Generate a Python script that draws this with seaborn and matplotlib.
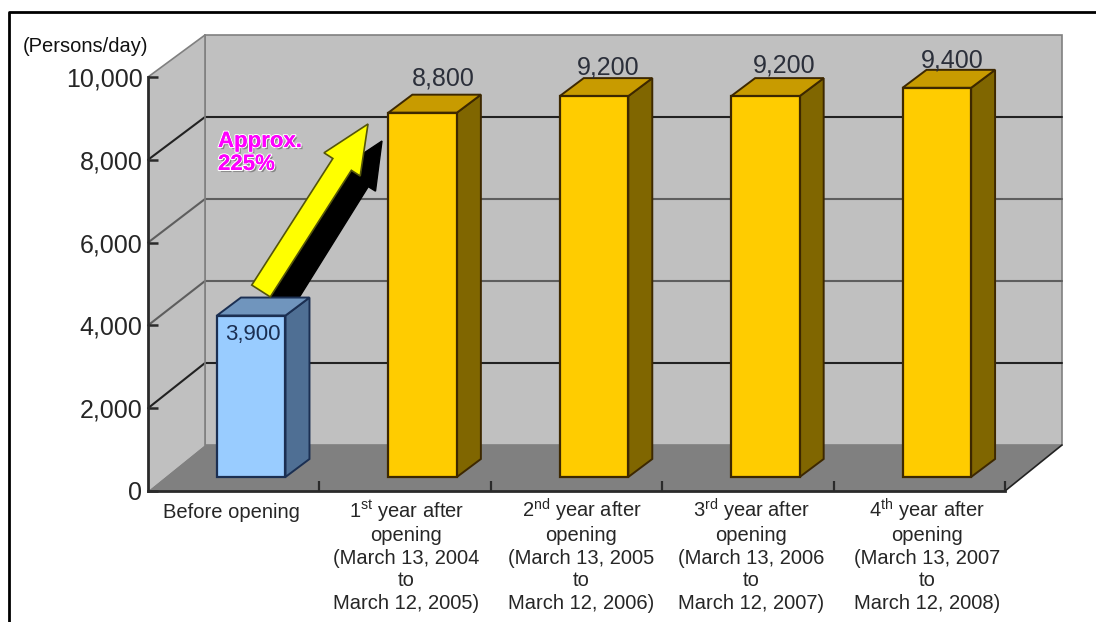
import matplotlib
matplotlib.use("Agg")
import matplotlib.pyplot as plt
import numpy as np
import pandas as pd
import seaborn as sns
from matplotlib.lines import Line2D
from matplotlib.patches import FancyArrow, Polygon
from matplotlib.transforms import Affine2D, IdentityTransform
import matplotlib.patheffects as pe

# Daily passenger counts before and after the opening
categories = [
    "Before opening",
    "1$^{\\mathrm{st}}$ year after\nopening\n(March 13, 2004\nto\nMarch 12, 2005)",
    "2$^{\\mathrm{nd}}$ year after\nopening\n(March 13, 2005\nto\nMarch 12, 2006)",
    "3$^{\\mathrm{rd}}$ year after\nopening\n(March 13, 2006\nto\nMarch 12, 2007)",
    "4$^{\\mathrm{th}}$ year after\nopening\n(March 13, 2007\nto\nMarch 12, 2008)",
]
persons_per_day = [3900, 8800, 9200, 9200, 9400]
y_ticks = [0, 2000, 4000, 6000, 8000, 10000]
y_tick_labels = ["0", "2,000", "4,000", "6,000", "8,000", "10,000"]

front_colors = ["#99CCFF", "#FFCC00", "#FFCC00", "#FFCC00", "#FFCC00"]
side_colors = ["#4F6F94", "#806600", "#806600", "#806600", "#806600"]
top_colors = ["#7095BD", "#C89B00", "#C89B00", "#C89B00", "#C89B00"]
edge_colors = ["#1B2F52", "#3D2800", "#3D2800", "#3D2800", "#3D2800"]
grid_colors = ["#808080", "#222222", "#5E5E5E", "#5E5E5E", "#222222", "#808080"]
label_offsets = [(19, -5), (38, 48), (32, 43), (36, 45), (33, 41)]
label_sizes = [16, 18, 18, 18, 18]
category_shift = [-2, 1, 5, 3, 8]

WALL = "#C0C0C0"
FLOOR = "#808080"
TEXT = "#262626"
W, H = 1096, 622
BAR_PLANE = (17.5, 14)
BAR_DEPTH = (24, 18)
LINE_STEP = 22.8

sns.set_theme(style="white")
plt.rcParams["font.family"] = ["Liberation Sans", "DejaVu Sans"]
plt.rcParams["mathtext.fontset"] = "custom"
plt.rcParams["mathtext.rm"] = "Liberation Sans"

fig = plt.figure(figsize=(W / 100, H / 100), dpi=100, facecolor="white")
ax = fig.add_axes([148 / W, 1 - 491 / H, (1005 - 148) / W, (491 - 77) / H])
ax.patch.set_visible(False)

table = pd.DataFrame({"period": categories, "persons": persons_per_day})
sns.barplot(data=table, x="period", y="persons", hue="period", palette=front_colors,
            order=categories, hue_order=categories, legend=False, width=0.4,
            saturation=1, ax=ax, zorder=5)
bars = sorted(ax.patches, key=lambda p: p.get_x())
ax.set_xlim(-0.5, 4.5)
ax.set_ylim(0, 10000)
ax.set_xlabel("")
ax.set_ylabel("")


def wall_depth(value):
    """Oblique offset of the back wall; the perspective narrows slightly upward."""
    return (57, 46 - 4 * value / 10000)


def project(x, y, offset=(0, 0)):
    """Data point pushed into the oblique depth direction, in display pixels."""
    px, py = ax.transData.transform((x, y))
    return (px + offset[0], py + offset[1])


def face(points, **kwargs):
    patch = Polygon(points, closed=True, transform=IdentityTransform(), clip_on=False, **kwargs)
    ax.add_patch(patch)
    return patch


def pixel_line(points, color, lw):
    pts = np.array(points)
    ax.add_line(Line2D(pts[:, 0], pts[:, 1], color=color, lw=lw,
                       transform=IdentityTransform(), clip_on=False, zorder=2))


# Box behind the bars: back wall, side wall and floor
x0, x1 = ax.get_xlim()
low, high = wall_depth(0), wall_depth(10000)
face([project(x0, 0, low), project(x1, 0, low), project(x1, 10000, high), project(x0, 10000, high)],
     facecolor=WALL, edgecolor="#808080", lw=1.2, zorder=1)
face([project(x0, 0), project(x0, 0, low), project(x0, 10000, high), project(x0, 10000)],
     facecolor=WALL, edgecolor="none", zorder=1)
face([project(x0, 0), project(x1, 0), project(x1, 0, low), project(x0, 0, low)],
     facecolor=FLOOR, edgecolor="none", zorder=1.5)

for tick, color in zip(y_ticks[1:-1], grid_colors[1:-1]):
    d = wall_depth(tick)
    pixel_line([project(x0, tick), project(x0, tick, d), project(x1, tick, d)], color, 1.5)
pixel_line([project(x0, 10000), project(x0, 10000, high)], "#808080", 1.2)
pixel_line([project(x0, 0, low), project(x0, 10000, high)], "#808080", 1.2)
pixel_line([project(x1, 0), project(x1, 0, low)], "#222222", 1.2)

# Seaborn's bars become the front faces; side and top faces follow their geometry
plane = ax.transData + Affine2D().translate(*BAR_PLANE)
back = (BAR_PLANE[0] + BAR_DEPTH[0], BAR_PLANE[1] + BAR_DEPTH[1])
for i, bar in enumerate(bars):
    bar.set_transform(plane)
    bar.set_clip_on(False)
    bar.set_edgecolor(edge_colors[i])
    bar.set_linewidth(1.6)
    left, right, top = bar.get_x(), bar.get_x() + bar.get_width(), bar.get_height()
    face([project(right, 0, BAR_PLANE), project(right, 0, back),
          project(right, top, back), project(right, top, BAR_PLANE)],
         facecolor=side_colors[i], edgecolor=edge_colors[i], lw=1.4, zorder=4)
    face([project(left, top, BAR_PLANE), project(right, top, BAR_PLANE),
          project(right, top, back), project(left, top, back)],
         facecolor=top_colors[i], edgecolor=edge_colors[i], lw=1.4, zorder=4)
    ax.annotate(f"{persons_per_day[i]:,}", (i, top), xytext=label_offsets[i],
                textcoords="offset pixels", ha="center", va="center", fontsize=label_sizes[i],
                color="#1B2F52" if i == 0 else "#2B2F3A", zorder=8, annotation_clip=False)

# Growth arrow and its shadow, rising from the first bar to the second
shadow = FancyArrow(281, H - 303, 101, H - 141 - (H - 303), width=25, head_width=42,
                    head_length=46, length_includes_head=True, facecolor="black",
                    edgecolor="black", transform=IdentityTransform(), clip_on=False, zorder=3.5)
arrow = FancyArrow(261, H - 291, 107, H - 124 - (H - 291), width=22, head_width=43,
                   head_length=48, length_includes_head=True, facecolor="#FFFF00",
                   edgecolor="#55550A", lw=1.2, transform=IdentityTransform(),
                   clip_on=False, zorder=6)
ax.add_patch(shadow)
ax.add_patch(arrow)
fig.text(218 / W, 1 - 153 / H, "Approx.\n225%", color="#FF00FF", fontsize=16, fontweight="bold",
         ha="left", va="center", linespacing=1.12, zorder=9,
         path_effects=[pe.SimplePatchShadow(offset=(1.5, -1.5), shadow_rgbFace="#777777", alpha=0.8),
                       pe.withStroke(linewidth=1.6, foreground="white"), pe.Normal()])

# Axes, ticks and labels
ax.set_axisbelow(False)
for side in ("top", "right"):
    ax.spines[side].set_visible(False)
for side in ("left", "bottom"):
    ax.spines[side].set_color("#2A2A2A")
    ax.spines[side].set_linewidth(2)
    ax.spines[side].set_zorder(3)
ax.set_yticks(y_ticks)
ax.set_yticklabels(y_tick_labels, fontsize=18, color=TEXT)
ax.tick_params(axis="y", direction="in", length=7, width=1.8, color="#2A2A2A", pad=4, left=True)
ax.set_xticks(range(len(categories)))
ax.set_xticklabels([])
ax.tick_params(axis="x", length=0, bottom=False)
ax.set_xticks(np.arange(0.5, 4.6, 1), minor=True)
ax.tick_params(axis="x", which="minor", direction="in", length=7, width=1.6, color="#2A2A2A", bottom=True)

# Category captions, laid out line by line for an even baseline step
for i, caption in enumerate(categories):
    for n, line in enumerate(caption.split("\n")):
        ax.annotate(line, (i, 0), xytext=(category_shift[i], -27 - n * LINE_STEP),
                    textcoords="offset pixels", ha="center", va="baseline",
                    fontsize=14.5, color=TEXT, annotation_clip=False)

fig.text(23 / W, 1 - 47 / H, "(Persons/day)", fontsize=14.5, color="#111111", ha="left", va="center")

# Page rule above and to the left of the chart
fig.add_artist(Line2D([9 / W, 9 / W, 1], [0, 1 - 12 / H, 1 - 12 / H], color="black", lw=2))

fig.savefig("out.png", dpi=100, facecolor="white")
